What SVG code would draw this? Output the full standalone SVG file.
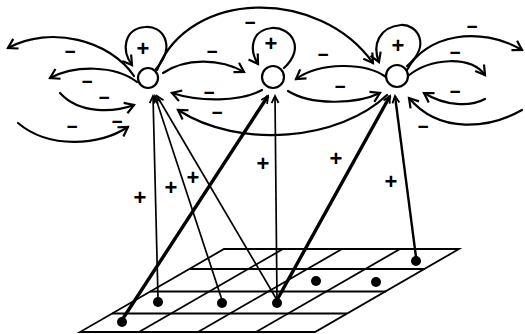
<svg xmlns="http://www.w3.org/2000/svg" width="525" height="334" viewBox="0 0 525 334">
<defs>
<style>
.arc{fill:none;stroke:#000;stroke-width:2.2;stroke-linecap:round}
.in{fill:none;stroke:#000;stroke-width:1.7}
.thick{fill:none;stroke:#000;stroke-width:3.4}
.grid{fill:none;stroke:#000;stroke-width:1.8}
.node{fill:#fff;stroke:#000;stroke-width:2.2}
.dot{fill:#000}
.lbl{font-family:"Liberation Sans",Arial,sans-serif;font-size:19px;font-weight:bold;fill:#000;text-anchor:middle}
.plus{font-size:22px}
</style>
<marker id="ah" markerUnits="userSpaceOnUse" markerWidth="14" markerHeight="14" refX="11" refY="7" orient="auto">
<path d="M2,1.5 L11,7 L2,12.5" fill="none" stroke="#000" stroke-width="2.2"/>
</marker>
<marker id="ai" markerUnits="userSpaceOnUse" markerWidth="10" markerHeight="10" refX="8" refY="5" orient="auto">
<path d="M1,1.5 L8,5 L1,8.5" fill="none" stroke="#000" stroke-width="1.8"/>
</marker>
</defs>
<rect width="525" height="334" fill="#fff"/>

<g id="grid" class="grid">
<path d="M224,249 L459,249 L315,332 L80,332 Z"/>
<line x1="190" y1="269" x2="425" y2="269"/>
<line x1="150" y1="291.5" x2="386" y2="291.5"/>
<line x1="112" y1="313.5" x2="347" y2="313.5"/>
<line x1="283" y1="249" x2="139" y2="332"/>
<line x1="342" y1="249" x2="198" y2="332"/>
<line x1="400" y1="249" x2="256" y2="332"/>
</g>

<g id="connectors">
<line class="in" x1="158" y1="298" x2="153" y2="96" marker-end="url(#ai)"/>
<line class="in" x1="222" y1="300" x2="155" y2="96" marker-end="url(#ai)"/>
<line class="in" x1="277" y1="300" x2="157" y2="96" marker-end="url(#ai)"/>
<line class="thick" x1="122" y1="320" x2="268" y2="96" marker-end="url(#ai)"/>
<line class="in" x1="277" y1="300" x2="275" y2="96" marker-end="url(#ai)"/>
<line class="thick" x1="277" y1="300" x2="390" y2="96" marker-end="url(#ai)"/>
<line class="in" style="stroke-width:2.4" x1="416" y1="257" x2="395" y2="96" marker-end="url(#ai)"/>
<path class="arc" d="M156,69 C177,45 162,25 145,27 C124,29 121,50 132,65" marker-end="url(#ah)"/>
<path class="arc" d="M284,68 C306,48 291,27 272,28 C251,30 249,50 258,64" marker-end="url(#ah)"/>
<path class="arc" d="M407,66 C432,45 417,24 401,25 C379,27 372,45 379,62" marker-end="url(#ah)"/>
<path class="arc" d="M134,76 C110,40 50,25 8,48" marker-end="url(#ah)"/>
<path class="arc" d="M137,82 C115,65 75,65 50,78" marker-end="url(#ah)"/>
<path class="arc" d="M60,93 C80,115 115,112 134,105" marker-end="url(#ah)"/>
<path class="arc" d="M18,123 C50,150 100,145 128,127" marker-end="url(#ah)"/>
<path class="arc" d="M157,70 C190,-12 320,-12 373,63" marker-end="url(#ah)"/>
<path class="arc" d="M163,73 C185,58 220,58 244,72" marker-end="url(#ah)"/>
<path class="arc" d="M262,90 C240,102 200,102 172,93" marker-end="url(#ah)"/>
<path class="arc" d="M387,95 C340,140 240,150 178,110" marker-end="url(#ah)"/>
<path class="arc" d="M288,91 C310,105 355,105 380,93" marker-end="url(#ah)"/>
<path class="arc" d="M386,77 C365,62 320,62 296,79" marker-end="url(#ah)"/>
<path class="arc" d="M407,70 C425,35 480,25 522,50" marker-end="url(#ah)"/>
<path class="arc" d="M408,76 C430,58 470,55 485,75" marker-end="url(#ah)"/>
<path class="arc" d="M485,99 C470,107 445,106 424,93" marker-end="url(#ah)"/>
<path class="arc" d="M522,110 C490,128 440,135 409,98" marker-end="url(#ah)"/>
</g>

<g id="n1"><circle class="node" cx="148" cy="78" r="10"/></g>
<g id="n2"><circle class="node" cx="273" cy="77" r="11"/></g>
<g id="n3"><circle class="node" cx="397" cy="76" r="11"/></g>

<g id="d1"><circle class="dot" cx="122" cy="322" r="5"/></g>
<g id="d2"><circle class="dot" cx="158" cy="302" r="5"/></g>
<g id="d3"><circle class="dot" cx="222" cy="303" r="5"/></g>
<g id="d4"><circle class="dot" cx="277" cy="303" r="5"/></g>
<g id="d5"><circle class="dot" cx="316" cy="281" r="5"/></g>
<g id="d6"><circle class="dot" cx="376" cy="282" r="5"/></g>
<g id="d7"><circle class="dot" cx="416" cy="261" r="5"/></g>

<g id="labels" class="lbl">
<text class="plus" x="143" y="56">+</text>
<text class="plus" x="271" y="51">+</text>
<text class="plus" x="398" y="53">+</text>
<text class="plus" x="140" y="205">+</text>
<text class="plus" x="171" y="195">+</text>
<text class="plus" x="193" y="185">+</text>
<text class="plus" x="263" y="171">+</text>
<text class="plus" x="336" y="166">+</text>
<text class="plus" x="391" y="189">+</text>
<text x="70" y="58">−</text>
<text x="87" y="88">−</text>
<text x="104" y="104">−</text>
<text x="72" y="133">−</text>
<text x="117" y="128">−</text>
<text x="212" y="58">−</text>
<text x="250" y="29">−</text>
<text x="209" y="99">−</text>
<text x="217" y="119">−</text>
<text x="323" y="61">−</text>
<text x="340" y="93">−</text>
<text x="472" y="33">−</text>
<text x="455" y="59">−</text>
<text x="455" y="98">−</text>
<text x="423" y="133">−</text>
</g>
</svg>
